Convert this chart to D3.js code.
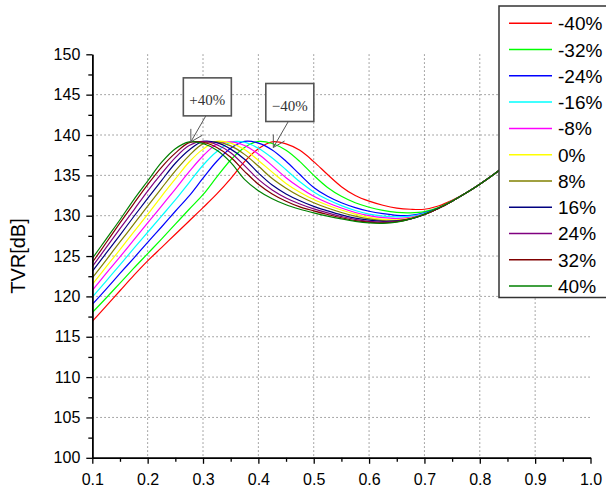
<!DOCTYPE html>
<html>
<head>
<meta charset="utf-8">
<script src="https://cdn.jsdelivr.net/npm/d3@7"></script>
<style>
  body { margin: 0; background: #fff; }
  svg { display: block; font-family: "Liberation Sans", Arial, sans-serif; }
</style>
</head>
<body>
<svg id="chart" width="606" height="493"></svg>
<script>
// frequency axis samples (shared by all series)
const freq = [0.1, 0.125, 0.15, 0.175, 0.2, 0.225, 0.25, 0.275, 0.3, 0.325, 0.35, 0.375, 0.4, 0.425, 0.45, 0.475,
  0.5, 0.525, 0.55, 0.575, 0.6, 0.625, 0.65, 0.675, 0.7, 0.725, 0.75, 0.775, 0.8, 0.825, 0.85, 0.875, 0.9];

// TVR values, one array per series
const tvrM40 = [116.9, 118.8, 120.7, 122.6, 124.4, 126.05, 127.7, 129.35, 131.0, 132.7, 134.6, 136.7, 138.3, 139.15, 138.9, 138.1,
  136.7, 135.1, 133.6, 132.5, 131.8, 131.3, 130.95, 130.8, 130.8, 131.2, 131.9, 132.8, 133.9, 135.1, 136.4, 137.8, 139.3];
const tvrM32 = [118.0, 119.8, 121.65, 123.5, 125.3, 127.1, 128.95, 130.8, 132.6, 134.8, 136.9, 138.45, 139.2, 138.95, 138.1, 136.7,
  135.0, 133.5, 132.4, 131.6, 131.05, 130.65, 130.4, 130.35, 130.5, 131.0, 131.85, 132.8, 133.9, 135.1, 136.4, 137.8, 139.3];
const tvrM24 = [119.0, 120.9, 122.85, 124.75, 126.7, 128.6, 130.55, 132.45, 134.65, 136.75, 138.35, 139.2, 139.0, 138.15, 136.75, 135.1,
  133.5, 132.4, 131.6, 131.0, 130.55, 130.25, 130.05, 130.05, 130.35, 130.95, 131.8, 132.8, 133.9, 135.1, 136.4, 137.8, 139.3];
const tvrM16 = [119.9, 121.9, 123.9, 125.95, 127.95, 129.95, 131.95, 134.1, 136.25, 137.95, 139.1, 139.1, 138.35, 137.15, 135.7, 134.2,
  132.95, 132.0, 131.25, 130.65, 130.2, 129.95, 129.85, 129.95, 130.3, 130.9, 131.8, 132.8, 133.9, 135.1, 136.4, 137.8, 139.3];
const tvrM08 = [120.75, 122.85, 124.9, 127.0, 129.1, 131.2, 133.3, 135.45, 137.4, 138.85, 139.15, 138.7, 137.65, 136.2, 134.7, 133.45,
  132.4, 131.6, 130.95, 130.4, 130.0, 129.75, 129.65, 129.8, 130.2, 130.9, 131.8, 132.8, 133.9, 135.1, 136.4, 137.8, 139.3];
const tvrP00 = [121.5, 123.65, 125.8, 128.0, 130.15, 132.4, 134.55, 136.65, 138.25, 139.2, 139.0, 138.2, 136.85, 135.4, 134.0, 132.9,
  132.0, 131.3, 130.7, 130.2, 129.8, 129.55, 129.5, 129.7, 130.15, 130.9, 131.8, 132.8, 133.9, 135.1, 136.4, 137.8, 139.3];
const tvrP08 = [122.3, 124.5, 126.75, 128.95, 131.2, 133.4, 135.55, 137.45, 138.9, 139.15, 138.65, 137.6, 136.15, 134.6, 133.4, 132.4,
  131.6, 130.95, 130.4, 129.95, 129.6, 129.4, 129.4, 129.65, 130.15, 130.9, 131.8, 132.8, 133.9, 135.1, 136.4, 137.8, 139.3];
const tvrP16 = [123.1, 125.35, 127.6, 129.9, 132.15, 134.35, 136.5, 138.15, 139.2, 139.05, 138.25, 137.0, 135.3, 133.8, 132.7, 131.85,
  131.15, 130.6, 130.1, 129.7, 129.45, 129.3, 129.35, 129.6, 130.15, 130.9, 131.8, 132.8, 133.9, 135.1, 136.4, 137.8, 139.3];
const tvrP24 = [123.7, 126.05, 128.4, 130.7, 133.05, 135.2, 137.2, 138.7, 139.2, 138.8, 137.8, 136.2, 134.5, 133.2, 132.2, 131.45,
  130.85, 130.35, 129.9, 129.55, 129.3, 129.2, 129.3, 129.6, 130.15, 130.9, 131.8, 132.8, 133.9, 135.1, 136.4, 137.8, 139.3];
const tvrP32 = [124.2, 126.65, 129.1, 131.5, 133.85, 136.0, 137.75, 139.05, 139.1, 138.45, 137.25, 135.5, 133.9, 132.7, 131.8, 131.1,
  130.6, 130.15, 129.75, 129.4, 129.2, 129.1, 129.25, 129.6, 130.15, 130.9, 131.8, 132.8, 133.9, 135.1, 136.4, 137.8, 139.3];
const tvrP40 = [124.7, 127.1, 129.5, 132.0, 134.3, 136.6, 138.3, 139.15, 138.95, 138.1, 136.6, 134.5, 133.1, 132.1, 131.35, 130.8,
  130.35, 129.95, 129.6, 129.3, 129.1, 129.05, 129.2, 129.6, 130.2, 130.95, 131.8, 132.8, 133.9, 135.1, 136.4, 137.8, 139.3];

const seriesNames = ['-40%', '-32%', '-24%', '-16%', '-8%', '0%', '8%', '16%', '24%', '32%', '40%'];
const seriesValues = [tvrM40, tvrM32, tvrM24, tvrM16, tvrM08, tvrP00, tvrP08, tvrP16, tvrP24, tvrP32, tvrP40];
const seriesColors = ['#ff0000', '#00ff00', '#0000ff', '#00ffff', '#ff00ff', '#ffff00',
  '#808000', '#000080', '#800080', '#800000', '#008000'];

const xTicks = [0.1, 0.2, 0.3, 0.4, 0.5, 0.6, 0.7, 0.8, 0.9, 1.0];
const xMinorTicks = [0.15, 0.25, 0.35, 0.45, 0.55, 0.65, 0.75, 0.85, 0.95];
const yTicks = [100, 105, 110, 115, 120, 125, 130, 135, 140, 145, 150];
const yMinorTicks = [102.5, 107.5, 112.5, 117.5, 122.5, 127.5, 132.5, 137.5, 142.5, 147.5];

// peak call-outs: label and the point the arrow touches
const callouts = [
  { label: '+40%', x: 0.278, y: 139.15 },
  { label: '\u221240%', x: 0.427, y: 138.45 }
];

const margin = { left: 92.3, right: 15.5, top: 54.3, bottom: 35 };
const svg = d3.select('#chart');
const width = 606 - margin.left - margin.right;
const height = 493 - margin.top - margin.bottom - 0.2;

const xScale = d3.scaleLinear().domain([0.1, 1.0]).range([0, width]);
const yScale = d3.scaleLinear().domain([100, 150]).range([height, 0]);

const chart = svg.append('g')
  .attr('transform', `translate(${margin.left},${margin.top})`);

// dotted grid
chart.append('g').attr('class', 'grid')
  .selectAll('line.h')
  .data(yTicks.filter(d => d > 100 && d < 150))
  .join('line')
  .attr('x1', 0).attr('x2', width)
  .attr('y1', d => yScale(d)).attr('y2', d => yScale(d))
  .style('stroke', '#8c8c8c')
  .style('stroke-width', 1)
  .style('stroke-dasharray', '1.5,2.5');

chart.append('g').attr('class', 'grid')
  .selectAll('line.v')
  .data(xTicks.filter(d => d > 0.1 && d < 1.0))
  .join('line')
  .attr('x1', d => xScale(d)).attr('x2', d => xScale(d))
  .attr('y1', 0).attr('y2', height)
  .style('stroke', '#8c8c8c')
  .style('stroke-width', 1)
  .style('stroke-dasharray', '1.5,2.5');

// curves
const line = d3.line()
  .x((d, i) => xScale(freq[i]))
  .y(d => yScale(d))
  .curve(d3.curveCatmullRom.alpha(0.5));

chart.append('g').attr('class', 'curves')
  .selectAll('path')
  .data(seriesValues)
  .join('path')
  .attr('d', d => line(d))
  .style('fill', 'none')
  .style('stroke', (d, i) => seriesColors[i])
  .style('stroke-width', 1.2);

// axes
const yAxisMinor = d3.axisLeft(yScale).tickValues(yMinorTicks).tickSize(4).tickSizeOuter(0).tickFormat('');
const yAxis = d3.axisLeft(yScale).tickValues(yTicks).tickSize(6).tickSizeOuter(0).tickPadding(6);
const xAxisMinor = d3.axisBottom(xScale).tickValues(xMinorTicks).tickSize(4).tickSizeOuter(0).tickFormat('');
const xAxis = d3.axisBottom(xScale).tickValues(xTicks).tickSize(6).tickSizeOuter(0).tickPadding(10)
  .tickFormat(d3.format('.1f'));

function styleAxis(g) {
  g.select('.domain').style('stroke', '#000').style('stroke-width', 1.5);
  g.selectAll('.tick line').style('stroke', '#000').style('stroke-width', 1.3);
  g.selectAll('.tick text')
    .style('font-family', '"Liberation Sans", Arial, sans-serif')
    .style('font-size', '16px')
    .style('fill', '#000');
}

chart.append('g').call(yAxisMinor).call(styleAxis);
chart.append('g').call(yAxis).call(styleAxis);
chart.append('g').attr('transform', `translate(0,${height})`).call(xAxisMinor).call(styleAxis);
chart.append('g').attr('transform', `translate(0,${height})`).call(xAxis).call(styleAxis);

// y axis title
svg.append('text')
  .attr('transform', `translate(25,${margin.top + height / 2}) rotate(-90)`)
  .attr('text-anchor', 'middle')
  .style('font-size', '20px')
  .style('fill', '#000')
  .text('TVR[dB]');

// call-outs
const co = chart.append('g').attr('class', 'callouts');
callouts.forEach(c => {
  const tx = xScale(c.x), ty = yScale(c.y);
  const ex = tx + 15, ey = ty - 26;
  const g = co.append('g');
  g.append('line')
    .attr('x1', tx).attr('y1', ty).attr('x2', ex).attr('y2', ey);
  g.append('line')
    .attr('x1', tx).attr('y1', ty).attr('x2', tx).attr('y2', ty - 13);
  g.append('line')
    .attr('x1', tx).attr('y1', ty).attr('x2', tx + 11.3).attr('y2', ty - 6.5);
  g.selectAll('line').style('stroke', '#555').style('stroke-width', 1);
  g.append('rect')
    .attr('x', ex - 22.5).attr('y', ey - 38)
    .attr('width', 48).attr('height', 38)
    .style('fill', '#fff')
    .style('stroke', '#555')
    .style('stroke-width', 1.6);
  g.append('text')
    .attr('x', ex + 1.5).attr('y', ey - 11)
    .attr('text-anchor', 'middle')
    .style('font-family', '"Liberation Serif", "Times New Roman", serif')
    .style('font-size', '15px')
    .style('fill', '#333')
    .text(c.label);
});

// legend
const legend = svg.append('g').attr('class', 'legend')
  .attr('transform', 'translate(499,6)');
legend.append('rect')
  .attr('width', 120).attr('height', 291.5)
  .style('fill', '#fff')
  .style('stroke', '#333')
  .style('stroke-width', 1.5);

const rows = legend.selectAll('g.row')
  .data(seriesNames)
  .join('g')
  .attr('class', 'row')
  .attr('transform', (d, i) => `translate(0,${17.3 + i * 26.27})`);
rows.append('line')
  .attr('x1', 10).attr('x2', 53)
  .style('stroke', (d, i) => seriesColors[i])
  .style('stroke-width', 1.5);
rows.append('text')
  .attr('x', 59).attr('y', 7)
  .style('font-size', '19px')
  .style('fill', '#000')
  .text(d => d);
</script>
</body>
</html>
